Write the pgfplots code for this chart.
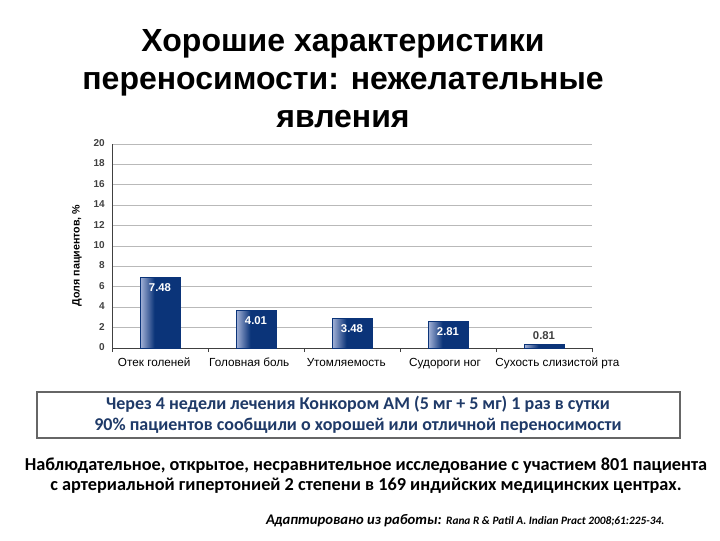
\documentclass[border=0pt]{standalone}
\usepackage{pgfplots}
\pgfplotsset{compat=1.18}
\usepackage{fontspec}
\setmainfont{Liberation Sans}
\newfontfamily\carlito{Carlito}
\definecolor{barblue}{HTML}{0B3479}
\definecolor{barlight}{HTML}{A7B5D9}
\definecolor{boxtext}{HTML}{1F3A68}
\definecolor{tickgray}{HTML}{404040}
% light left edge, dark from about 35% of the bar on
\pgfdeclarehorizontalshading{barshade}{100bp}{color(0bp)=(barlight); color(25bp)=(barlight);
  color(43bp)=(barblue); color(100bp)=(barblue)}

\begin{document}
\begin{tikzpicture}
\useasboundingbox (0,0) rectangle (540pt,-405pt);

% bar heights as drawn in the picture, labels as printed on the bars
\begin{axis}[
    at={(84pt,-261pt)}, anchor=south west,
    scale only axis,
    width=360pt, height=153pt,
    xmin=-0.5, xmax=4.5,
    ymin=0, ymax=20,
    ytick={0,2,...,20},
    xtick={-0.5,0.5,...,4.5},
    xticklabels={},
    extra x ticks={-0.06,0.93,1.94,2.97,4.14},
    extra x tick style={major tick length=0pt, grid=none},
    extra x tick labels={Отек голеней,Головная боль,Утомляемость,Судороги ног,Сухость слизистой рта},
    typeset ticklabels with strut,
    major tick length=3pt,
    xtick style={draw=tickgray, line width=0.6pt},
    ytick style={draw=none},
    xtick pos=bottom,
    x tick label style={font=\fontsize{8.8}{9}\selectfont, yshift=-4pt},
    y tick label style={font=\fontsize{7.5}{9}\selectfont\bfseries, text=tickgray, xshift=-2pt},
    /pgf/number format/assume math mode=true,
    ymajorgrids,
    grid style={draw=gray!55, line width=0.5pt},
    axis x line*=bottom,
    axis y line*=left,
    axis line style={draw=tickgray, line width=0.7pt},
    ylabel={Доля пациентов, \%},
    ylabel style={font=\fontsize{8}{9}\selectfont\bfseries, yshift=2pt, xshift=-7pt},
    ybar, bar width=30pt, bar shift=0pt,
    point meta=explicit symbolic,
    nodes near coords,
    every node near coord/.append style={font=\fontsize{8.5}{9}\selectfont\bfseries},
    every axis plot/.append style={draw=barblue, line width=0.4pt, shading=barshade},
  ]
\addplot[nodes near coords style={text=white, anchor=north, yshift=-1pt}]
  coordinates {(0,6.89)[7.48]};
\addplot[nodes near coords style={text=white, anchor=north, yshift=-1pt}]
  coordinates {(1,3.69)[4.01]};
\addplot[nodes near coords style={text=white, anchor=north, yshift=-1pt}]
  coordinates {(2,2.90)[3.48]};
\addplot[nodes near coords style={text=white, anchor=north, yshift=-1pt}]
  coordinates {(3,2.58)[2.81]};
\addplot[nodes near coords style={text=tickgray, anchor=south, yshift=0pt}]
  coordinates {(4,0.39)[0.81]};
\end{axis}

\begin{scope}[x=0.75pt, y=-0.75pt]
\node[font=\fontsize{24}{28.3}\selectfont\bfseries, align=center, anchor=north] at (343,25)
  {Хорошие характеристики\\переносимости: нежелательные\\явления};
\draw[draw=gray!80!black, line width=1pt, fill=white] (37,392) rectangle (680,438);
\node[font=\carlito\fontsize{13.5}{15.5}\selectfont\bfseries, text=boxtext, align=center] at (358,415)
  {Через 4 недели лечения Конкором АМ (5 мг + 5 мг) 1 раз в сутки\\90\% пациентов сообщили о хорошей или отличной переносимости};
\node[font=\carlito\fontsize{13.7}{14.5}\selectfont\bfseries, align=center] at (366,475.5)
  {Наблюдательное, открытое, несравнительное исследование с участием 801 пациента\\с артериальной гипертонией 2 степени в 169 индийских медицинских центрах.};
\node[font=\carlito\fontsize{11}{12}\selectfont\bfseries\itshape, anchor=east] at (669,521)
  {Адаптировано из работы: {\fontsize{8.5}{12}\selectfont Rana R \& Patil A. Indian Pract 2008;61:225-34.}};
\end{scope}
\end{tikzpicture}
\end{document}
